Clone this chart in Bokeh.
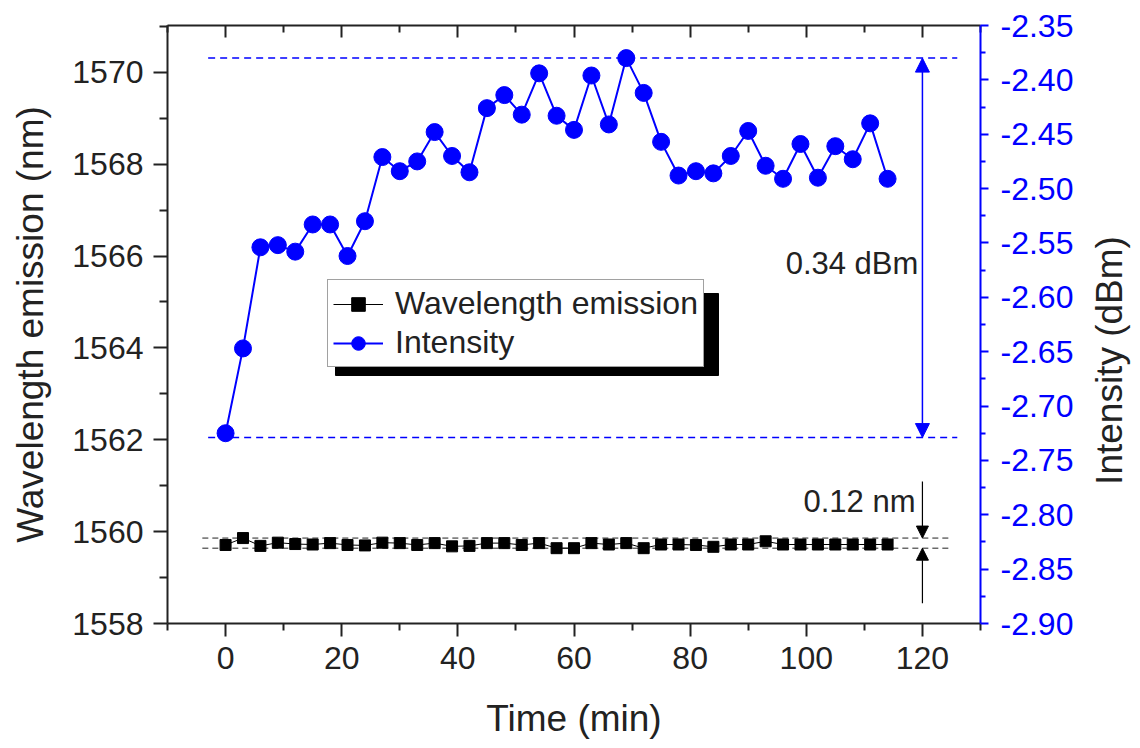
import math
from bokeh.plotting import figure
from bokeh.models import (Range1d, LinearAxis, FixedTicker, Legend, LegendItem,
                          Arrow, NormalHead, PrintfTickFormatter, Label,
                          BoxAnnotation)
from bokeh.core.properties import value
from bokeh.embed import file_html
from bokeh.resources import INLINE

# ---------------- data ----------------
time_min = [0, 3, 6, 9, 12, 15, 18, 21, 24, 27, 30, 33, 36, 39, 42, 45, 48, 51, 54,
            57, 60, 63, 66, 69, 72, 75, 78, 81, 84, 87, 90, 93, 96, 99, 102, 105,
            108, 111, 114]

wavelength_nm = [1559.71, 1559.86, 1559.69, 1559.76, 1559.73, 1559.72, 1559.75,
                 1559.71, 1559.70, 1559.76, 1559.75, 1559.71, 1559.75, 1559.68,
                 1559.69, 1559.75, 1559.75, 1559.71, 1559.75, 1559.64, 1559.64,
                 1559.75, 1559.72, 1559.75, 1559.64, 1559.72, 1559.72, 1559.71,
                 1559.67, 1559.72, 1559.72, 1559.79, 1559.72, 1559.72, 1559.72,
                 1559.72, 1559.72, 1559.72, 1559.72]

intensity_dbm = [-2.725, -2.647, -2.554, -2.552, -2.558, -2.533, -2.533, -2.562,
                 -2.530, -2.471, -2.484, -2.475, -2.448, -2.470, -2.485, -2.426,
                 -2.414, -2.432, -2.394, -2.433, -2.446, -2.396, -2.441, -2.380,
                 -2.412, -2.457, -2.488, -2.484, -2.486, -2.470, -2.447, -2.479,
                 -2.491, -2.459, -2.490, -2.461, -2.473, -2.440, -2.491]

x_ticks = [0, 20, 40, 60, 80, 100, 120]
x_minor_ticks = [-10, 10, 30, 50, 70, 90, 110, 130]
y_left_ticks = [1558, 1560, 1562, 1564, 1566, 1568, 1570]
y_left_minor = [1559, 1561, 1563, 1565, 1567, 1569, 1571]
y_right_ticks = [-2.90, -2.85, -2.80, -2.75, -2.70, -2.65, -2.60, -2.55, -2.50,
                 -2.45, -2.40, -2.35]
y_right_minor = [-2.875, -2.825, -2.775, -2.725, -2.675, -2.625, -2.575, -2.525,
                 -2.475, -2.425, -2.375]

# reference levels and annotation anchors
intensity_high_ref = -2.380
intensity_low_ref = -2.729
ref_line_t = [-3, 126]
wl_ref_line_t = [-4, 125]
arrow_t = 120
wl_arrow_top = 1561.09
wl_arrow_bottom = 1558.44
label_nm = "0.12 nm"
label_nm_pos = (118.8, 1560.65)
label_dbm = "0.34 dBm"
label_dbm_pos = (119.3, -2.569)
right_title = "Intensity (dBm)"

FONT = "Liberation Sans"
TXT = "#222222"
BLUE = "#0000ff"

p = figure(width=1140, height=748, x_range=Range1d(-10, 130),
           y_range=Range1d(1558, 1571.02), output_backend="svg",
           toolbar_location=None, min_border_left=167, min_border_right=160,
           min_border_top=25, min_border_bottom=125)
p.grid.visible = False
p.outline_line_color = None
p.background_fill_color = "white"
p.border_fill_color = "white"
p.extra_y_ranges = {"int": Range1d(-2.90, -2.35)}

# bottom axis
xa = p.xaxis[0]
xa.ticker = FixedTicker(ticks=x_ticks, minor_ticks=x_minor_ticks)
xa.axis_label = "Time (min)"
# left axis
ya = p.yaxis[0]
ya.ticker = FixedTicker(ticks=y_left_ticks, minor_ticks=y_left_minor)
ya.axis_label = "Wavelength emission (nm)"

for ax in (xa, ya):
    ax.axis_line_width = 2
    ax.axis_line_color = "#222222"
    ax.major_tick_line_width = 2
    ax.minor_tick_line_width = 2
    ax.major_tick_line_color = "#222222"
    ax.minor_tick_line_color = "#222222"
    ax.major_tick_in = 0
    ax.minor_tick_in = 0
    ax.major_label_text_font = FONT
    ax.major_label_text_font_size = "32px"
    ax.major_label_text_color = TXT
    ax.axis_label_text_font = FONT
    ax.axis_label_text_font_size = "37px"
    ax.axis_label_text_font_style = "normal"
    ax.axis_label_text_color = TXT

xa.major_tick_out = 13
xa.minor_tick_out = 7
xa.major_label_standoff = 10
xa.axis_label_standoff = 26
ya.major_tick_out = 14
ya.minor_tick_out = 8
ya.major_label_standoff = 10
ya.axis_label_standoff = 18

# top axis (ticks only, inward, no labels)
top = LinearAxis(ticker=FixedTicker(ticks=x_ticks, minor_ticks=x_minor_ticks),
                 major_label_overrides={t: "" for t in x_ticks},
                 major_label_text_font_size="10px", axis_line_width=2,
                 axis_line_color="#222222", major_tick_line_width=2,
                 minor_tick_line_width=2, major_tick_line_color="#222222",
                 minor_tick_line_color="#222222", major_tick_in=12,
                 major_tick_out=0, minor_tick_in=7, minor_tick_out=0,
                 major_label_standoff=0)
p.add_layout(top, "above")

# right axis (intensity)
right = LinearAxis(y_range_name="int",
                   ticker=FixedTicker(ticks=y_right_ticks, minor_ticks=y_right_minor),
                   formatter=PrintfTickFormatter(format="%.2f"),
                   axis_line_width=2,
                   axis_line_color=BLUE, major_tick_line_color=BLUE,
                   minor_tick_line_color=BLUE, major_tick_line_width=2,
                   minor_tick_line_width=2, major_tick_in=0, minor_tick_in=0,
                   major_tick_out=8, minor_tick_out=5, major_label_standoff=12,
                   major_label_text_font=FONT, major_label_text_font_size="32px",
                   major_label_text_color=BLUE)
p.add_layout(right, "right")

# right axis title, reading bottom-to-top (placed in the right side panel)
p.add_layout(Label(x=33, y=263, x_units="screen", y_units="screen",
                   text=right_title, angle=math.pi / 2, angle_units="rad",
                   text_align="center", text_baseline="middle",
                   text_font=FONT, text_font_size="37px", text_color=TXT),
             "right")

# reference dashed lines (intensity)
for lvl in (intensity_high_ref, intensity_low_ref):
    p.line(x=ref_line_t, y=[lvl, lvl], y_range_name="int", line_color=BLUE,
           line_width=1.5, line_dash="7 5")

# reference dashed lines (wavelength)
for lvl in (max(wavelength_nm), min(wavelength_nm)):
    p.line(x=wl_ref_line_t, y=[lvl, lvl], line_color="#222222",
           line_width=1, line_dash="6 4")

# series
wl_line = p.line(x=time_min, y=wavelength_nm, line_color="black", line_width=1)
wl_pts = p.scatter(x=time_min, y=wavelength_nm, marker="square", size=11,
                   fill_color="black", line_color="black")
int_line = p.line(x=time_min, y=intensity_dbm, y_range_name="int",
                  line_color=BLUE, line_width=2)
int_pts = p.scatter(x=time_min, y=intensity_dbm, y_range_name="int",
                    marker="circle", size=17, fill_color=BLUE, line_color=BLUE)

# arrows
p.add_layout(Arrow(start=NormalHead(size=14, fill_color=BLUE, line_color=BLUE),
                   end=NormalHead(size=14, fill_color=BLUE, line_color=BLUE),
                   x_start=arrow_t, y_start=intensity_high_ref,
                   x_end=arrow_t, y_end=intensity_low_ref, y_range_name="int",
                   line_color=BLUE, line_width=1.5))
p.add_layout(Arrow(end=NormalHead(size=12, fill_color="black", line_color="black"),
                   x_start=arrow_t, y_start=wl_arrow_top, x_end=arrow_t,
                   y_end=max(wavelength_nm), line_color="black", line_width=1.2))
p.add_layout(Arrow(end=NormalHead(size=12, fill_color="black", line_color="black"),
                   x_start=arrow_t, y_start=wl_arrow_bottom, x_end=arrow_t,
                   y_end=min(wavelength_nm), line_color="black", line_width=1.2))

# annotation texts
p.text(x=[label_nm_pos[0]], y=[label_nm_pos[1]], text=[label_nm],
       text_font=value(FONT), text_font_size="31px", text_color=TXT,
       text_align="right", text_baseline="middle")
p.text(x=[label_dbm_pos[0]], y=[label_dbm_pos[1]], text=[label_dbm],
       y_range_name="int", text_font=value(FONT), text_font_size="31px",
       text_color=TXT, text_align="right", text_baseline="middle")

# legend drop shadow (screen units, relative to the plot frame)
p.add_layout(BoxAnnotation(left=168, right=551, bottom=248, top=330,
                           left_units="screen", right_units="screen",
                           bottom_units="screen", top_units="screen",
                           fill_color="black", fill_alpha=1.0,
                           line_color="black", line_alpha=1.0))

# legend
items = [LegendItem(label="Wavelength emission", renderers=[wl_line, wl_pts]),
         LegendItem(label="Intensity", renderers=[int_line, int_pts])]
front = Legend(items=items, location=(160, 256), orientation="vertical",
               padding=5, spacing=2, margin=0, glyph_width=50, glyph_height=34,
               label_height=34, label_standoff=12, label_text_font=FONT,
               label_text_font_size="32px", background_fill_color="white",
               background_fill_alpha=1.0, border_line_color="#444444",
               border_line_width=1, label_text_color=TXT)
p.add_layout(front, "center")

open("out.html", "w").write(file_html(p, INLINE))
